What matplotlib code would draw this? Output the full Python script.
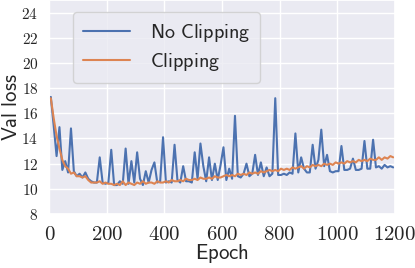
import matplotlib
matplotlib.use("Agg")
import matplotlib.pyplot as plt
import seaborn as sns
from matplotlib.ticker import FuncFormatter

epochs = list(range(5, 1200, 10))

no_clipping = [
    17.3, 15.0, 12.6, 14.9, 11.5, 12.2, 11.3, 14.8, 11.4, 11.0,
    11.2, 10.9, 11.3, 10.8, 10.6, 10.5, 10.5, 12.5, 10.5, 10.4,
    10.5, 13.1, 10.3, 10.3, 10.6, 10.4, 13.2, 10.4, 12.2, 10.5,
    12.9, 10.8, 10.3, 11.4, 10.5, 11.5, 12.1, 10.5, 10.6, 14.1,
    10.5, 10.6, 10.5, 13.5, 10.7, 10.5, 11.8, 10.6, 10.6, 10.5,
    12.9, 10.8, 13.6, 11.8, 10.6, 12.5, 10.7, 12.0, 10.7, 11.9,
    13.3, 10.7, 11.6, 10.8, 15.8, 11.0, 10.9, 11.2, 12.0, 11.0,
    11.2, 12.7, 11.1, 12.1, 11.0, 11.7, 11.0, 11.2, 17.2, 11.1,
    11.1, 11.2, 11.1, 11.3, 11.2, 14.4, 11.3, 12.5, 11.6, 11.3,
    11.3, 13.5, 11.6, 12.3, 14.7, 11.8, 12.7, 11.4, 11.3, 11.4,
    11.4, 13.4, 11.5, 11.5, 11.6, 12.4, 11.5, 11.5, 11.6, 13.8,
    11.6, 11.6, 13.9, 11.7, 11.8, 11.6, 11.9, 11.7, 11.8, 11.7,
]

clipping = [
    17.2, 15.6, 14.2, 13.2, 12.3, 11.8, 11.6, 11.2, 11.3, 11.0,
    11.0, 10.9, 11.0, 10.7, 10.5, 10.5, 10.5, 10.6, 10.4, 10.5,
    10.4, 10.4, 10.3, 10.4, 10.3, 10.6, 10.3, 10.5, 10.4, 10.3,
    10.5, 10.4, 10.6, 10.4, 10.5, 10.5, 10.4, 10.6, 10.5, 10.5,
    10.6, 10.5, 10.7, 10.6, 10.6, 10.7, 10.6, 10.8, 10.7, 10.7,
    10.8, 10.7, 10.9, 10.8, 10.8, 10.9, 10.8, 11.0, 10.9, 10.9,
    11.0, 11.1, 11.0, 11.1, 11.0, 11.2, 11.1, 11.2, 11.1, 11.3,
    11.2, 11.3, 11.2, 11.4, 11.3, 11.4, 11.5, 11.4, 11.5, 11.4,
    11.6, 11.5, 11.6, 11.5, 11.7, 11.6, 11.7, 11.8, 11.6, 11.8,
    11.7, 11.9, 11.8, 11.9, 11.8, 12.0, 11.9, 12.0, 11.9, 12.1,
    12.0, 12.1, 12.0, 12.2, 12.1, 12.2, 12.1, 12.3, 12.2, 12.3,
    12.2, 12.4, 12.3, 12.3, 12.5, 12.3, 12.5, 12.4, 12.6, 12.5,
]

series_labels = ["No Clipping", "Clipping"]
x_ticks = [0, 200, 400, 600, 800, 1000, 1200]
y_ticks = [8, 10, 12, 14, 16, 18, 20, 22, 24]

sns.set_theme(style="darkgrid")
plt.rcParams["mathtext.fontset"] = "cm"
plt.rcParams["font.family"] = ["DejaVu Sans"]

fig = plt.figure(figsize=(4.15, 2.68), dpi=100)
ax = fig.add_axes([0.119, 0.2015, 0.832, 0.7985])

colors = sns.color_palette("deep")
ax.plot(epochs, no_clipping, color=colors[0], lw=1.5,
        label=r"$\mathsf{No\ Clipping}$")
ax.plot(epochs, clipping, color=colors[1], lw=1.5,
        label=r"$\mathsf{Clipping}$")

ax.set_xlim(0, 1200)
ax.set_ylim(8, 25)
ax.set_xticks(x_ticks)
ax.set_yticks(y_ticks)
ax.xaxis.set_major_formatter(FuncFormatter(lambda v, p: r"$%d$" % v))
ax.yaxis.set_major_formatter(FuncFormatter(lambda v, p: r"$%d$" % v))
ax.tick_params(axis="x", labelsize=15, pad=1)
ax.tick_params(axis="y", labelsize=11, pad=2)
ax.set_xlabel(r"$\mathsf{Epoch}$", fontsize=15, labelpad=-1)
ax.set_ylabel(r"$\mathsf{Val\ loss}$", fontsize=15, labelpad=0.5)

ax.legend(loc="upper left", bbox_to_anchor=(0.04, 0.99), fontsize=14.5,
          handlelength=2.3, borderpad=0.5, labelspacing=0.35,
          handletextpad=1.0)

fig.savefig("out.png", dpi=100)
